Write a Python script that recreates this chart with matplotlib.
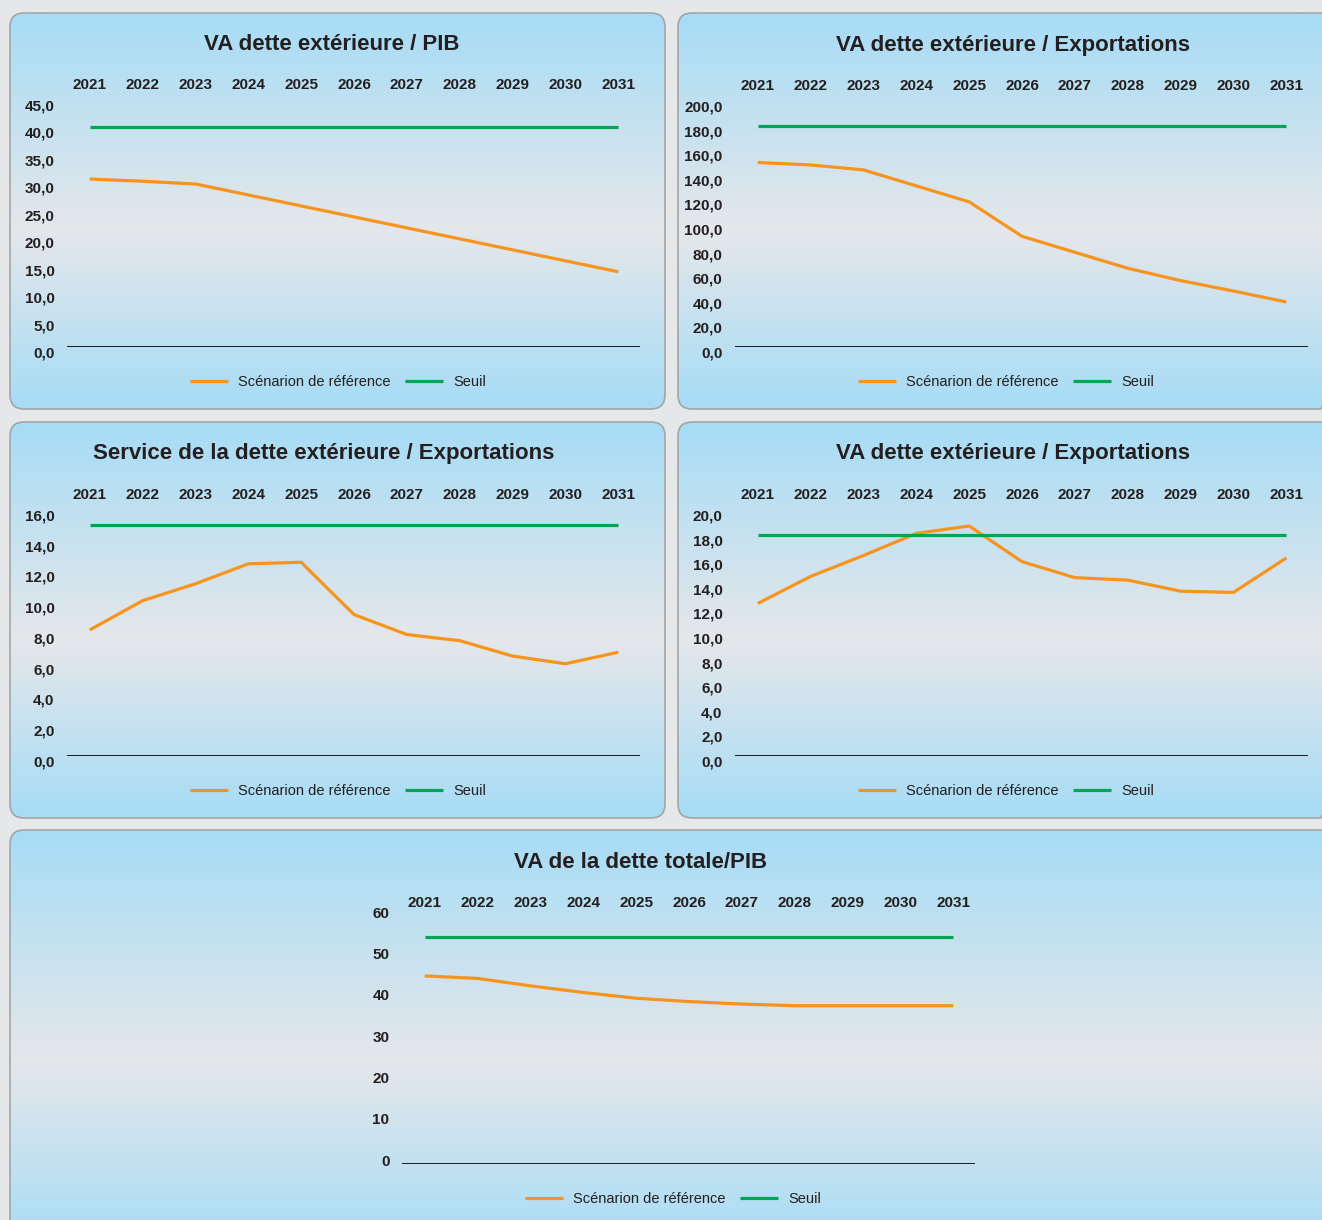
import numpy as np
import matplotlib
matplotlib.use("Agg")
import matplotlib.pyplot as plt
from matplotlib.patches import FancyBboxPatch
from matplotlib.transforms import ScaledTranslation

plt.rcParams['font.family'] = ['Liberation Sans Narrow', 'Liberation Sans', 'DejaVu Sans']

# data
years = [2021, 2022, 2023, 2024, 2025, 2026, 2027, 2028, 2029, 2030, 2031]
va_ext_pib = [30.6, 30.2, 29.7, 27.7, 25.7, 23.7, 21.7, 19.7, 17.7, 15.7, 13.7]
seuil_ext_pib = 40
va_ext_exp = [150, 148, 144, 131, 118, 90, 77, 64, 54, 45.5, 36.6]
seuil_ext_exp = 180
serv_exp = [8.2, 10.1, 11.2, 12.5, 12.6, 9.2, 7.9, 7.5, 6.5, 6.0, 6.75]
seuil_serv_exp = 15
serv_rec = [12.4, 14.6, 16.3, 18.1, 18.7, 15.8, 14.5, 14.3, 13.4, 13.3, 16.1]
seuil_serv_rec = 18
va_tot_pib = [45.5, 44.9, 43.1, 41.5, 40.1, 39.3, 38.7, 38.3, 38.3, 38.3, 38.3]
seuil_tot_pib = 55

titles = ['VA dette extérieure / PIB', 'VA dette extérieure / Exportations',
          'Service de la dette extérieure / Exportations', 'VA dette extérieure / Exportations',
          'VA de la dette totale/PIB']

W, H = 1322, 1220
fig = plt.figure(figsize=(W / 100, H / 100), dpi=100)
fig.patch.set_facecolor('#e6e7e9')

ORANGE = '#f7941d'
GREEN = '#00a651'

# background boxes with gradient
bg = fig.add_axes([0, 0, 1, 1])
bg.set_xlim(0, W)
bg.set_ylim(H, 0)
bg.axis('off')

top = np.array([166, 220, 246]) / 255
mid = np.array([229, 231, 234]) / 255
t = np.linspace(0, 1, 200)
w = 1 - np.abs(t - 0.55) / np.where(t < 0.55, 0.55, 0.45)
grad = top[None, :] * (1 - w[:, None]) + mid[None, :] * w[:, None]
grad = grad[:, None, :]

boxes = [(10, 13, 655, 396), (678, 13, 656, 396), (10, 422, 655, 396),
         (678, 422, 656, 396), (10, 830, 1326, 420)]
for (x0, y0, bw, bh) in boxes:
    p = FancyBboxPatch((x0, y0), bw, bh, boxstyle='round,pad=0,rounding_size=14',
                       facecolor='none', edgecolor='#a3a5a8', lw=1.2, zorder=3)
    bg.add_patch(p)
    im = bg.imshow(grad, extent=(x0, x0 + bw, y0 + bh, y0), aspect='auto', zorder=1)
    im.set_clip_path(p)


def panel(ref, seuil, ymax, ystep, fmt, axpx, title, title_xy, leg_xy, yoff=-5, xpad=6):
    left, right, ytop, ybot = axpx
    ax = fig.add_axes([left / W, 1 - ybot / H, (right - left) / W, (ybot - ytop) / H])
    ax.set_facecolor('none')
    x = np.arange(len(years))
    ax.plot(x, ref, color=ORANGE, lw=2.3, label='Scénarion de référence', solid_capstyle='butt')
    ax.plot(x, [seuil] * len(years), color=GREEN, lw=2.3, label='Seuil', solid_capstyle='butt')
    ax.axhline(0, color='#1a1a1a', lw=1.4)
    ax.set_xlim(-0.43, 10.41)
    ax.set_ylim(0, ymax)
    ax.xaxis.tick_top()
    ax.set_xticks(x)
    ax.set_xticklabels([str(y) for y in years], fontweight='bold', fontsize=11, color='#231f20')
    ticks = np.arange(0, ymax + ystep / 2, ystep)
    ax.set_yticks(ticks)
    ax.set_yticklabels([fmt(v) for v in ticks], fontweight='bold', fontsize=11, color='#231f20')
    ax.tick_params(length=0, axis='x', pad=xpad)
    ax.tick_params(length=0, axis='y', pad=9)
    for lab in ax.get_yticklabels():
        lab.set_transform(lab.get_transform() + ScaledTranslation(0, yoff / 100, fig.dpi_scale_trans))
    for s in ax.spines.values():
        s.set_visible(False)
    fig.text(title_xy[0] / W, 1 - title_xy[1] / H, title, ha='center', va='center',
             fontsize=16, fontweight='bold', color='#231f20')
    ax.legend(loc='center', bbox_to_anchor=(leg_xy[0] / W, 1 - leg_xy[1] / H),
              bbox_transform=fig.transFigure, ncol=2, frameon=False, fontsize=10.5,
              handlelength=2.6, handletextpad=0.7, columnspacing=1.0,
              labelcolor='#231f20')
    return ax


dec = lambda v: f'{v:.1f}'.replace('.', ',')
panel(va_ext_pib, seuil_ext_pib, 45, 5, dec, (67, 640, 100, 347), titles[0], (332, 45), (338, 382))
panel(va_ext_exp, seuil_ext_exp, 200, 20, dec, (735, 1308, 101, 347), titles[1], (1013, 45), (1006, 382))
panel(serv_exp, seuil_serv_exp, 16, 2, dec, (67, 640, 510, 756), titles[2], (324, 454), (338, 791))
panel(serv_rec, seuil_serv_rec, 20, 2, dec, (735, 1308, 510, 756), titles[3], (1013, 454), (1006, 791))
panel(va_tot_pib, seuil_tot_pib, 60, 10, lambda v: f'{v:.0f}', (402, 975, 916, 1164), titles[4],
      (641, 862), (673, 1199), yoff=4, xpad=4)

fig.savefig('out.png', dpi=100, facecolor=fig.get_facecolor())
